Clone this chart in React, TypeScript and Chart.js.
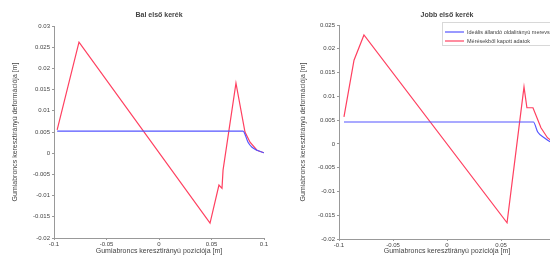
import React, { useEffect, useRef } from "react";
import { Chart, registerables } from "chart.js";

Chart.register(...registerables);

// ---- Data ----
const leftTitle = "Bal első kerék";
const rightTitle = "Jobb első kerék";
const yAxisTitle = "Gumiabroncs keresztirányú deformációja [m]";
const xAxisTitle = "Gumiabroncs keresztirányú pozíciója [m]";
const legendLabels = ["Ideális állandó oldalirányú merevséggel", "Mérésekből kapott adatok"];

const xTickStep = 0.05;
const xMin = -0.1;
const xMax = 0.1;
const leftYMin = -0.02;
const leftYMax = 0.03;
const rightYMin = -0.02;
const rightYMax = 0.025;
const yTickStep = 0.005;

// Left wheel
const leftBlueX = [-0.097, 0.08, 0.0848, 0.0886, 0.0933, 0.1];
const leftBlueY = [0.0052, 0.0052, 0.0026, 0.0014, 0.0007, 0.0001];
const leftRedX = [-0.097, -0.0762, 0.0486, 0.0571, 0.06, 0.061, 0.0733, 0.0819, 0.0867, 0.0933, 0.1];
const leftRedY = [0.0055, 0.0262, -0.0165, -0.0075, -0.0083, -0.004, 0.0165, 0.005, 0.0026, 0.0007, 0.0001];

// Right wheel
const rightBlueX = [-0.0954, 0.08, 0.084, 0.09, 0.096, 0.1];
const rightBlueY = [0.0046, 0.0046, 0.0025, 0.0013, 0.0004, 0.0001];
const rightRedX = [-0.0954, -0.0861, -0.0769, 0.0556, 0.064, 0.0713, 0.074, 0.0796, 0.087, 0.093, 0.1];
const rightRedY = [0.0057, 0.0176, 0.0229, -0.0166, -0.0013, 0.012, 0.0076, 0.0076, 0.0034, 0.0013, 0.0001];

const BLUE = "#5555ff";
const RED = "#ff4060";
const TEXT = "#444";
const AXIS = "#999";

const pts = (xs: number[], ys: number[]) => xs.map((x, i) => ({ x, y: ys[i] }));
const fmt = (v: any) => String(parseFloat(Number(v).toFixed(4)));

type Cfg = {
  width: number;
  padRight: number;
  padTop: number;
  yWidth: number;
  xHeight: number;
  yMin: number;
  yMax: number;
  blue: { x: number; y: number }[];
  red: { x: number; y: number }[];
  title: string;
  legend: boolean;
  yTitleOffset: number;
};

function overlayPlugin(cfg: Cfg) {
  return {
    id: "overlay",
    afterDraw(chart: any) {
      const { ctx, chartArea } = chart;
      const cx = (chartArea.left + chartArea.right) / 2;
      const cy = (chartArea.top + chartArea.bottom) / 2;
      ctx.save();
      ctx.fillStyle = TEXT;
      ctx.textAlign = "center";
      ctx.textBaseline = "middle";
      ctx.font = "bold 7px Arial, 'Liberation Sans', sans-serif";
      ctx.fillText(cfg.title, cx, 15);
      ctx.font = "7px Arial, 'Liberation Sans', sans-serif";
      ctx.fillText(xAxisTitle, cx, 251);
      ctx.save();
      ctx.translate(chartArea.left - cfg.yTitleOffset, cy);
      ctx.rotate(-Math.PI / 2);
      ctx.fillText(yAxisTitle, 0, 0);
      ctx.restore();
      if (cfg.legend) {
        const lx = 170;
        const ty = 27;
        ctx.strokeStyle = "#d8d8d8";
        ctx.lineWidth = 1;
        ctx.strokeRect(lx - 2.5, ty - 4.5, 140, 23);
        ctx.font = "5.5px Arial, 'Liberation Sans', sans-serif";
        ctx.textAlign = "left";
        const rows = [
          { c: BLUE, t: legendLabels[0], y: ty + 5 },
          { c: RED, t: legendLabels[1], y: ty + 14 },
        ];
        rows.forEach((r) => {
          ctx.strokeStyle = r.c;
          ctx.lineWidth = 1.2;
          ctx.beginPath();
          ctx.moveTo(lx, r.y);
          ctx.lineTo(lx + 19, r.y);
          ctx.stroke();
          ctx.fillStyle = TEXT;
          ctx.fillText(r.t, lx + 22, r.y);
        });
      }
      ctx.restore();
    },
  };
}

function Panel({ cfg, left }: { cfg: Cfg; left: number }) {
  const ref = useRef<HTMLCanvasElement | null>(null);
  useEffect(() => {
    if (!ref.current) return;
    const tickFont = { size: 6, family: "Arial, 'Liberation Sans', sans-serif" };
    const chart = new Chart(ref.current, {
      type: "line",
      data: {
        datasets: [
          { data: cfg.blue, borderColor: BLUE, borderWidth: 1.2, pointRadius: 0, cubicInterpolationMode: "monotone" },
          { data: cfg.red, borderColor: RED, borderWidth: 1.2, pointRadius: 0, tension: 0 },
        ],
      },
      options: {
        responsive: false,
        animation: false,
        layout: { padding: { top: cfg.padTop, right: cfg.padRight, left: 0, bottom: 0 } },
        plugins: { legend: { display: false }, title: { display: false }, tooltip: { enabled: false } },
        scales: {
          x: {
            type: "linear",
            min: xMin,
            max: xMax,
            ticks: { stepSize: xTickStep, color: TEXT, font: tickFont, padding: 1, maxRotation: 0, callback: fmt },
            grid: { drawOnChartArea: false, drawTicks: true, tickLength: 2, color: AXIS },
            border: { color: AXIS },
            afterFit: (s: any) => {
              s.height = cfg.xHeight;
            },
          },
          y: {
            type: "linear",
            min: cfg.yMin,
            max: cfg.yMax,
            ticks: { stepSize: yTickStep, color: TEXT, font: tickFont, padding: 2, callback: fmt },
            grid: { drawOnChartArea: false, drawTicks: true, tickLength: 2, color: AXIS },
            border: { color: AXIS },
            afterFit: (s: any) => {
              s.width = cfg.yWidth;
            },
          },
        },
      },
      plugins: [overlayPlugin(cfg)],
    } as any);
    return () => chart.destroy();
  }, []);
  return (
    <canvas
      ref={ref}
      width={cfg.width}
      height={255}
      style={{ position: "absolute", left, top: 0, width: cfg.width, height: 255 }}
    />
  );
}

const leftCfg: Cfg = {
  width: 275,
  padRight: 11,
  padTop: 26,
  yWidth: 54,
  xHeight: 17,
  yMin: leftYMin,
  yMax: leftYMax,
  blue: pts(leftBlueX, leftBlueY),
  red: pts(leftRedX, leftRedY),
  title: leftTitle,
  legend: false,
  yTitleOffset: 39,
};

const rightCfg: Cfg = {
  width: 290,
  padRight: 10,
  padTop: 25,
  yWidth: 64,
  xHeight: 16,
  yMin: rightYMin,
  yMax: rightYMax,
  blue: pts(rightBlueX, rightBlueY),
  red: pts(rightRedX, rightRedY),
  title: rightTitle,
  legend: true,
  yTitleOffset: 36,
};

export default function App() {
  return (
    <div
      style={{
        position: "fixed",
        left: 0,
        top: 0,
        width: 550,
        height: 255,
        overflow: "hidden",
        background: "#fff",
      }}
    >
      <Panel cfg={leftCfg} left={0} />
      <Panel cfg={rightCfg} left={275} />
    </div>
  );
}
